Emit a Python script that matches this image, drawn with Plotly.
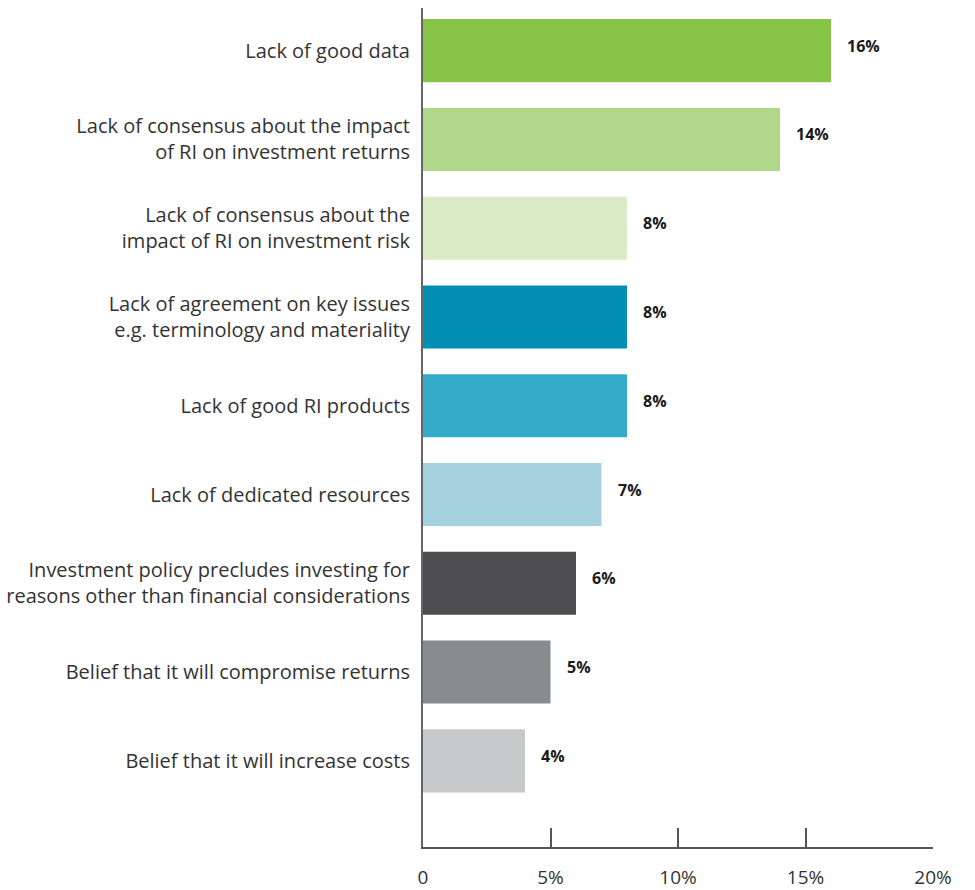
import plotly.graph_objects as go

categories = [
    "Lack of good data",
    "Lack of consensus about the impact<br>of RI on investment returns",
    "Lack of consensus about the<br>impact of RI on investment risk",
    "Lack of agreement on key issues<br>e.g. terminology and materiality",
    "Lack of good RI products",
    "Lack of dedicated resources",
    "Investment policy precludes investing for<br>reasons other than financial considerations",
    "Belief that it will compromise returns",
    "Belief that it will increase costs",
]
values = [16, 14, 8, 8, 8, 7, 6, 5, 4]
value_labels = ["16%", "14%", "8%", "8%", "8%", "7%", "6%", "5%", "4%"]
colors = ["#86C347", "#B0D68A", "#DAEAC6", "#008FB3", "#34ABC8",
          "#A6D2E0", "#4D4D4F", "#8A8B8F", "#C7C8CA"]
tick_vals = [0, 5, 10, 15, 20]
tick_text = ["0", "5%", "10%", "15%", "20%"]

FONT = "Open Sans"

fig = go.Figure()
fig.add_trace(go.Bar(
    x=values, y=categories, orientation="h",
    marker=dict(color=colors, line=dict(width=0)),
    hoverinfo="skip",
))

for cat, v, lab in zip(categories, values, value_labels):
    fig.add_annotation(
        x=v, y=cat, text="<b>" + lab + "</b>", showarrow=False,
        xanchor="left", yanchor="middle", xshift=14, yshift=5,
        font=dict(family=FONT, size=16, color="#1a1a1a"),
    )

fig.update_layout(
    width=975, height=890,
    margin=dict(l=423, r=42, t=8, b=43),
    paper_bgcolor="white", plot_bgcolor="white",
    bargap=0.29,
    showlegend=False,
    font=dict(family=FONT, size=20, color="#333333"),
)
fig.update_xaxes(
    range=[0, 20], tickvals=tick_vals, ticktext=tick_text,
    showgrid=False, zeroline=False, automargin=False,
    showline=True, linecolor="#555555", linewidth=2,
    ticks="inside", ticklen=19, tickwidth=2, tickcolor="#555555",
    ticklabelstandoff=12,
    tickfont=dict(family=FONT, size=19, color="#333333"),
    fixedrange=True,
)
fig.update_yaxes(
    type="category", categoryorder="array", categoryarray=categories,
    range=[8.97, -0.48],
    showgrid=False, zeroline=False, automargin=False,
    showline=True, linecolor="#666666", linewidth=2,
    ticks="", ticklabelstandoff=7,
    tickfont=dict(family=FONT, size=20, color="#333333"),
    fixedrange=True,
)

fig.write_html("out.html")
